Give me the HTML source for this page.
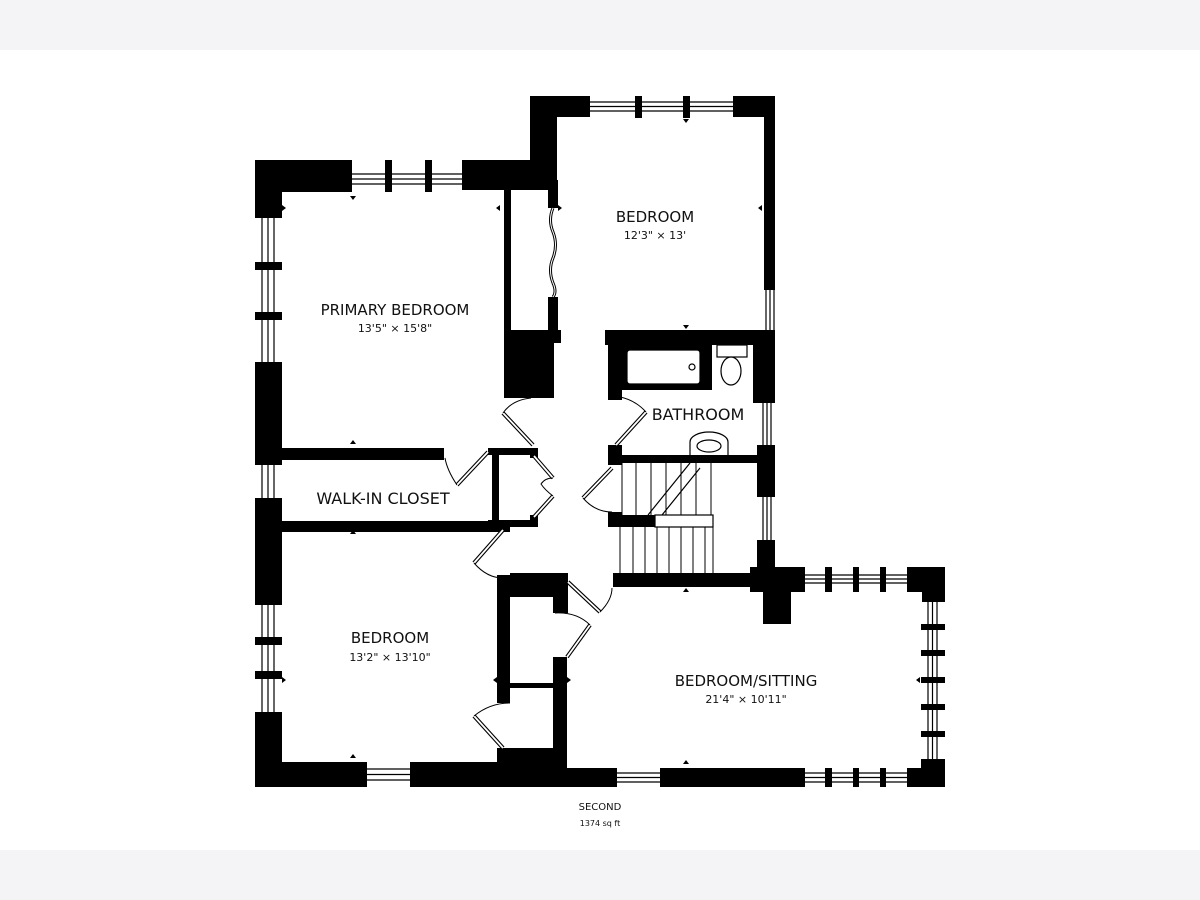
<!DOCTYPE html>
<html><head><meta charset="utf-8"><style>
html,body{margin:0;padding:0;background:#fff;}
body{width:1200px;height:900px;position:relative;overflow:hidden;}
.band{position:absolute;left:0;width:1200px;height:50px;background:#f4f3f5;}
svg{position:absolute;left:0;top:0;}
text{font-family:"DejaVu Sans","Liberation Sans",sans-serif;fill:#111;text-anchor:middle;}
</style></head><body>
<div class="band" style="top:0"></div>
<div class="band" style="top:850px"></div>
<svg width="1200" height="900" viewBox="0 0 1200 900">
<g fill="#000">
<!-- Primary bedroom top -->
<rect x="255" y="160" width="97" height="32"/>
<rect x="255" y="160" width="27" height="58"/>
<rect x="462" y="160" width="90" height="30"/>
<rect x="385" y="160" width="7" height="32"/>
<rect x="425" y="160" width="7" height="32"/>
<!-- upper vertical and right bedroom top -->
<rect x="530" y="96" width="27" height="94"/>
<rect x="530" y="96" width="60" height="21"/>
<rect x="635" y="96" width="7" height="22"/>
<rect x="683" y="96" width="7" height="22"/>
<rect x="733" y="96" width="42" height="21"/>
<rect x="764" y="96" width="11" height="194"/>
<!-- closet between -->
<rect x="504" y="190" width="7" height="208"/>
<rect x="548" y="180" width="10" height="28"/>
<rect x="548" y="297" width="10" height="35"/>
<rect x="504" y="330" width="50" height="68"/>
<rect x="554" y="330" width="7" height="13"/>
<!-- left exterior -->
<rect x="255" y="262" width="27" height="8"/>
<rect x="255" y="312" width="27" height="8"/>
<rect x="255" y="362" width="27" height="103"/>
<rect x="255" y="498" width="27" height="107"/>
<rect x="255" y="637" width="27" height="8"/>
<rect x="255" y="671" width="27" height="8"/>
<rect x="255" y="712" width="27" height="75"/>
<!-- bottom -->
<rect x="255" y="762" width="112" height="25"/>
<rect x="410" y="762" width="150" height="25"/>
<rect x="497" y="748" width="70" height="39"/>
<rect x="560" y="768" width="57" height="19"/>
<rect x="660" y="768" width="145" height="19"/>
<rect x="825" y="768" width="7" height="19"/>
<rect x="853" y="768" width="6" height="19"/>
<rect x="880" y="768" width="6" height="19"/>
<rect x="907" y="768" width="38" height="19"/>
<rect x="921" y="759" width="24" height="10"/>
<!-- sitting right wall -->
<rect x="907" y="567" width="38" height="25"/>
<rect x="922" y="590" width="23" height="12"/>
<rect x="921" y="624" width="24" height="6"/>
<rect x="921" y="650" width="24" height="6"/>
<rect x="921" y="677" width="24" height="6"/>
<rect x="921" y="704" width="24" height="6"/>
<rect x="921" y="731" width="24" height="6"/>
<rect x="825" y="567" width="7" height="25"/>
<rect x="853" y="567" width="6" height="25"/>
<rect x="880" y="567" width="6" height="25"/>
<rect x="750" y="567" width="55" height="25"/>
<rect x="763" y="590" width="28" height="34"/>
<rect x="757" y="540" width="18" height="30"/>
<!-- primary bottom / walk-in -->
<rect x="282" y="448" width="162" height="12"/>
<rect x="282" y="521" width="228" height="11"/>
<rect x="488" y="448" width="50" height="7"/>
<rect x="492" y="448" width="7" height="79"/>
<rect x="488" y="520" width="50" height="7"/>
<rect x="530" y="448" width="8" height="10"/>
<rect x="530" y="515" width="8" height="12"/>
<!-- bathroom -->
<rect x="605" y="330" width="170" height="15"/>
<rect x="608" y="330" width="14" height="70"/>
<rect x="622" y="345" width="90" height="45"/>
<rect x="753" y="330" width="22" height="73"/>
<!-- stair area -->
<rect x="608" y="445" width="14" height="20"/>
<rect x="608" y="455" width="167" height="8"/>
<rect x="757" y="445" width="18" height="52"/>
<rect x="608" y="512" width="14" height="15"/>
<rect x="608" y="515" width="47" height="12"/>
<rect x="613" y="573" width="162" height="14"/>
<!-- bottom bedroom closets -->
<rect x="497" y="575" width="13" height="128"/>
<rect x="510" y="573" width="58" height="24"/>
<rect x="553" y="597" width="15" height="16"/>
<rect x="553" y="657" width="14" height="113"/>
<rect x="510" y="683" width="43" height="5"/>
</g>
<!-- windows -->
<g stroke="#000" stroke-width="1.2" fill="none">
<path d="M352 174H462M352 179H462M352 184H462"/>
<path d="M590 102H733M590 106.5H733M590 111H733"/>
<path d="M766 290V330M770 290V330M774 290V330"/>
<path d="M262 218V362M268 218V362M274 218V362"/>
<path d="M262 465V498M268 465V498M274 465V498"/>
<path d="M262 605V712M268 605V712M274 605V712"/>
<path d="M367 769H410M367 774.5H410M367 780H410"/>
<path d="M617 773H660M617 777.5H660M617 782H660"/>
<path d="M805 773H907M805 777.5H907M805 782H907"/>
<path d="M805 575H907M805 579H907M805 583H907"/>
<path d="M928 602V759M932.5 602V759M937 602V759"/>
<path d="M763 403V447M767 403V447M771 403V447"/>
<path d="M763 497V540M767 497V540M771 497V540"/>
</g>
<!-- fixtures -->
<g stroke="#000" stroke-width="1.2" fill="#fff">
<rect x="627" y="350" width="73" height="34" rx="3"/>
<circle cx="692" cy="367" r="3"/>
<rect x="717" y="345" width="30" height="12"/>
<ellipse cx="731" cy="371" rx="10" ry="14"/>
<path d="M690 455V442a19 10 0 0 1 38 0V455"/>
<ellipse cx="709" cy="446" rx="12" ry="6"/>
<rect x="655" y="515" width="58" height="12"/>
</g>
<!-- stairs -->
<g stroke="#000" stroke-width="1">
<path d="M622 463V515M636 463V515M651 463V515M666 463V515M681 463V515M696 463V515M711 463V515"/>
<path d="M620 527V573M633 527V573M645 527V573M657 527V573M669 527V573M681 527V573M693 527V573M705 527V573M713 527V573"/>
<path d="M648 515L690 463M662 515L700 468" stroke-width="1.2"/>
</g>
<!-- doors -->
<g fill="none" stroke="#000">
<g stroke-width="4">
<path d="M533 445L503 413M488 452L457 485M503 530L474 563M612 468L583 498M568 582L600 612M616 445L646 412M567 657L590 625M503 748L474 716"/>
<path d="M534 456L553 478M534 517L553 496"/>
</g>
<g stroke="#fff" stroke-width="1.8">
<path d="M533 445L503 413M488 452L457 485M503 530L474 563M612 468L583 498M568 582L600 612M616 445L646 412M567 657L590 625M503 748L474 716"/>
<path d="M534 456L553 478M534 517L553 496"/>
</g>
<g stroke-width="1">
<path d="M503 413Q512 400 531 398"/>
<path d="M457 485Q447 470 445 458"/>
<path d="M474 563Q487 578 503 578"/>
<path d="M583 498Q595 512 612 512"/>
<path d="M600 612Q612 600 612 588"/>
<path d="M646 412Q635 400 620 397"/>
<path d="M590 625Q577 612 555 613"/>
<path d="M474 716Q490 703 510 703"/>
<path d="M553 478Q545 478 541 484Q545 490 553 496"/>
<path d="M553 208Q548 220 553 232Q558 245 553 258Q548 270 553 283Q557 292 553 297" stroke-width="3"/>
<path d="M553 208Q548 220 553 232Q558 245 553 258Q548 270 553 283Q557 292 553 297" stroke="#fff" stroke-width="1"/>
</g>
</g>
<!-- small markers -->
<g fill="#000">
<path d="M350 196h6l-3 4zM683 119h6l-3 4zM683 325h6l-3 4zM350 444h6l-3 -4zM350 534h6l-3 -4zM350 758h6l-3 -4zM683 592h6l-3 -4zM683 764h6l-3 -4zM282 205v6l4 -3zM500 205v6l-4 -3zM558 205v6l4 -3zM762 205v6l-4 -3zM282 677v6l4 -3zM497 677v6l-4 -3zM567 677v6l4 -3zM920 677v6l-4 -3z"/>
</g>
<!-- labels -->
<text x="395" y="315" font-size="15">PRIMARY BEDROOM</text>
<text x="395" y="332" font-size="11">13'5" × 15'8"</text>
<text x="655" y="222" font-size="15">BEDROOM</text>
<text x="655" y="239" font-size="11">12'3" × 13'</text>
<text x="698" y="420" font-size="16">BATHROOM</text>
<text x="383" y="504" font-size="16">WALK-IN CLOSET</text>
<text x="390" y="643" font-size="15">BEDROOM</text>
<text x="390" y="661" font-size="11">13'2" × 13'10"</text>
<text x="746" y="686" font-size="15">BEDROOM/SITTING</text>
<text x="746" y="703" font-size="11">21'4" × 10'11"</text>
<text x="600" y="810" font-size="10">SECOND</text>
<text x="600" y="826" font-size="8">1374 sq ft</text>
</svg>
</body></html>
